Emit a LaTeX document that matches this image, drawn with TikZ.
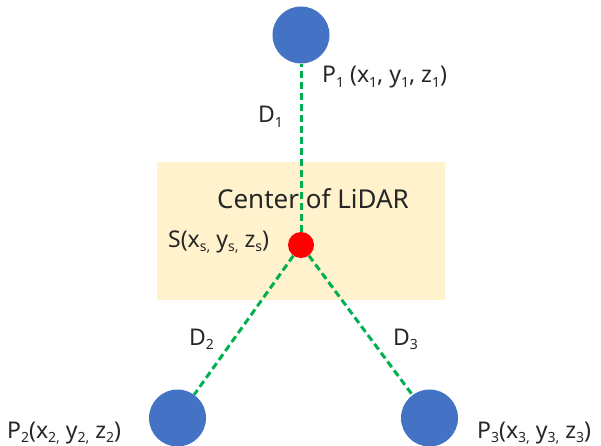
\documentclass[tikz,border=0pt]{standalone}
\usepackage{fontspec}
\setmainfont{Noto Sans}
\definecolor{ptblue}{HTML}{4472C4}
\definecolor{dgreen}{HTML}{00B050}
\definecolor{boxyellow}{HTML}{FFF2CC}
\newcommand{\mysub}[1]{{\fontsize{14}{14}\selectfont\raisebox{-4.5pt}{#1}}}
\begin{document}
\begin{tikzpicture}[x=1pt,y=-1pt,
  pt/.style={circle,fill=ptblue,draw=none,minimum size=57pt,inner sep=0pt},
  dist/.style={draw=dgreen,line width=3pt,dash pattern=on 7pt off 4pt},
  lbl/.style={inner sep=0pt,text=black!85,font=\fontsize{23}{27}\selectfont}]
\useasboundingbox (0,0) rectangle (601,446);
\fill[boxyellow] (157,162) rectangle (445,300);
\node[pt] (p1) at (301,35) {};
\node[pt] (p2) at (177.5,418) {};
\node[pt] (p3) at (429.5,418) {};
\node[circle,fill=red,minimum size=26pt,inner sep=0pt] (s) at (301,245) {};
\draw[dist] (s) -- (p1);
\draw[dist] (s) -- (p2);
\draw[dist] (s) -- (p3);
\node[lbl,anchor=base,font=\fontsize{26}{30}\selectfont] (title) at (313,208) {Center of LiDAR};
\node[lbl,anchor=base west] (sl) at (168,247) {S(x\mysub{s,} y\mysub{s,} z\mysub{s})};
\node[lbl,anchor=base west] (p1l) at (322,83) {P\mysub{1} (x\mysub{1}, y\mysub{1}, z\mysub{1})};
\node[lbl,anchor=base west] (d1) at (258,123) {D\mysub{1}};
\node[lbl,anchor=base west] (d2) at (189,345) {D\mysub{2}};
\node[lbl,anchor=base west] (d3) at (393,345) {D\mysub{3}};
\node[lbl,anchor=base west] (p2l) at (7,438) {P\mysub{2}(x\mysub{2,} y\mysub{2,} z\mysub{2})};
\node[lbl,anchor=base west] (p3l) at (477,438) {P\mysub{3}(x\mysub{3,} y\mysub{3,} z\mysub{3})};
\end{tikzpicture}
\end{document}
